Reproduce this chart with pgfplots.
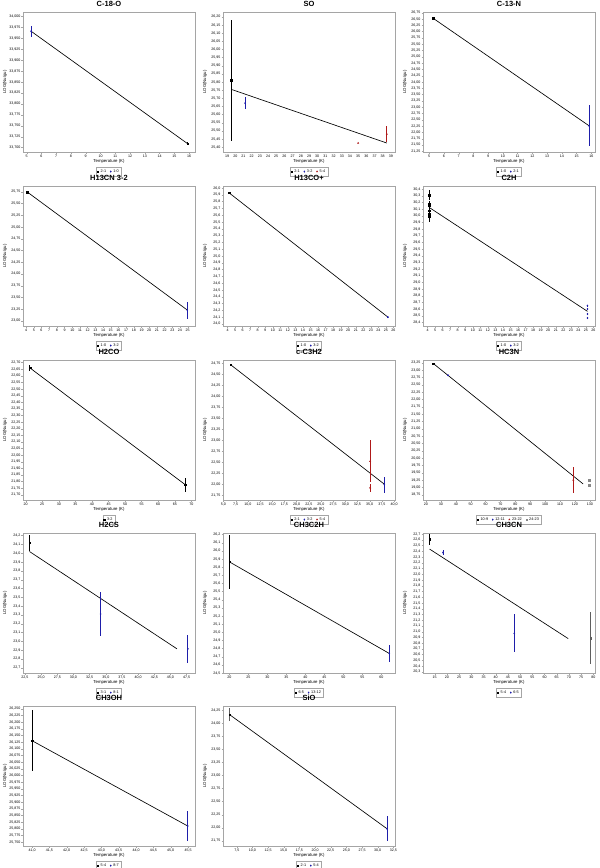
\documentclass[border=0pt]{standalone}
\usepackage{fontspec}
\setmainfont{Liberation Sans}
\usepackage{pgfplots}
\pgfplotsset{compat=1.18}

\definecolor{s1}{RGB}{0,0,0}
\definecolor{s2}{RGB}{30,30,170}
\definecolor{s3}{RGB}{175,25,25}
\definecolor{s4}{RGB}{135,135,135}
\definecolor{frame}{RGB}{165,165,165}

\pgfplotsset{
  panel/.style={
    scale only axis, width=172pt, height=140pt, anchor=north west,
    axis line style={frame, line width=0.5pt},
    tick style={frame, line width=0.3pt}, tick align=outside, major tick length=1.5pt,
    xtick pos=bottom, ytick pos=left,
    scaled ticks=false,
    tick label style={font=\fontsize{3.6}{4}\selectfont, inner sep=1pt},
    title style={font=\bfseries\fontsize{7.5}{8}\selectfont, inner sep=1pt, yshift=-2.2pt},
    xlabel={Temperature (K)}, ylabel={LOG(Nu/gu)},
    label style={font=\fontsize{4.3}{5}\selectfont},
    xlabel style={at={(axis description cs:0.5,-0.068)}, anchor=center},
    ylabel style={at={(axis description cs:-0.105,0.5)}, anchor=center},
    legend style={at={(0.5,-0.105)}, anchor=north, legend columns=-1,
      font=\fontsize{3.8}{4}\selectfont, draw=frame, line width=0.4pt, inner sep=0.6pt,
      /tikz/every even column/.append style={column sep=2pt}},
    /pgf/number format/use comma,
    /pgf/number format/assume math mode=true,
    yticklabel style={/pgf/number format/fixed, /pgf/number format/fixed zerofill},
  },
  xdec/.style={xticklabel style={/pgf/number format/fixed, /pgf/number format/fixed zerofill, /pgf/number format/precision=1}},
  yprec/.style={yticklabel style={/pgf/number format/precision=#1}},
  regline/.style={black, line width=0.65pt, no marks, forget plot},
  ser/.style 2 args={only marks, mark=#2, mark size=0.75pt, color=#1,
    /pgfplots/error bars/y dir=both, /pgfplots/error bars/y explicit,
    /pgfplots/error bars/error mark=none,
    /pgfplots/error bars/error bar style={line width=1pt, color=#1}},
  fat/.style={/pgfplots/error bars/error bar style={line width=1.6pt, color=#1}},
}

\begin{document}
\begin{tikzpicture}
\path[use as bounding box] (0,0) rectangle (600pt,-868pt);

% ---------- row 1 ----------
\begin{axis}[panel, at={(23pt,-12pt)}, title={C-18-O},
  xmin=4.75, xmax=16.4, xtick distance=1,
  ymin=33.69, ymax=34.01, ytick distance=0.025, yprec=3]
\addplot[regline] coordinates {(5.3,33.966) (15.9,33.709)};
\addplot[ser={s1}{square*}] coordinates {(15.9,33.709) +- (0,0.004)};
\addplot[ser={s2}{diamond*}] coordinates {(5.3,33.966) +- (0,0.013)};
\legend{2-1,1-0}
\end{axis}

\begin{axis}[panel, at={(223pt,-12pt)}, title={SO},
  xmin=18.5, xmax=39.5, xtick distance=1,
  ymin=25.37, ymax=26.23, ytick distance=0.05, yprec=2]
\addplot[regline] coordinates {(19.5,25.755) (38.5,25.425)};
\addplot[ser={s1}{square*}] coordinates {(19.5,25.81) +- (0,0.37)};
\addplot[ser={s2}{diamond*}] coordinates {(21.2,25.67) +- (0,0.035)};
\addplot[ser={s3}{triangle*}] coordinates {(35.0,25.425) +- (0,0.0) (38.5,25.48) +- (0,0.05)};
\legend{2-1,3-2,5-4}
\end{axis}

\begin{axis}[panel, at={(423pt,-12pt)}, title={C-13-N},
  xmin=4.58, xmax=16.25, xtick distance=1,
  ymin=21.22, ymax=26.78, ytick distance=0.25, yprec=2]
\addplot[regline] coordinates {(5.27,26.53) (15.85,22.26)};
\addplot[ser={s1}{square*}] coordinates {(5.27,26.53) +- (0,0.01)};
\addplot[ser={s2}{diamond*}] coordinates {(15.85,22.26) +- (0,0.82)};
\legend{1-0,2-1}
\end{axis}

% ---------- row 2 ----------
\begin{axis}[panel, at={(23pt,-186pt)}, title={H13CN 3-2},
  xmin=3.6, xmax=25.95, xtick distance=1,
  ymin=22.89, ymax=25.875, ytick distance=0.25, yprec=2]
\addplot[regline] coordinates {(4.17,25.745) (24.95,23.23)};
\addplot[ser={s1}{square*}] coordinates {(4.17,25.745) +- (0,0.005)};
\addplot[ser={s2}{diamond*}] coordinates {(24.95,23.23) +- (0,0.18)};
\legend{1-0,3-2}
\end{axis}

\begin{axis}[panel, at={(223pt,-186pt)}, title={H13CO+},
  xmin=3.4, xmax=26.2, xtick distance=1,
  ymin=23.97, ymax=26.03, ytick distance=0.1, yprec=1]
\addplot[regline] coordinates {(4.2,25.93) (25.27,24.10)};
\addplot[ser={s1}{square*}] coordinates {(4.2,25.93) +- (0,0.01)};
\addplot[ser={s2}{diamond*}] coordinates {(25.27,24.10) +- (0,0.012)};
\legend{1-0,3-2}
\end{axis}

\begin{axis}[panel, at={(423pt,-186pt)}, title={C2H},
  xmin=3.4, xmax=26.2, xtick distance=1,
  ymin=28.345, ymax=30.445, ytick distance=0.1, yprec=1]
\addplot[regline] coordinates {(4.2,30.125) (25.2,28.565)};
\addplot[ser={s1}{square*}] coordinates {
  (4.2,30.31) +- (0,0.075) (4.2,30.175) +- (0,0.04) (4.2,30.15) +- (0,0.04)
  (4.2,30.075) +- (0,0.04) (4.2,30.025) +- (0,0.04) (4.2,29.985) +- (0,0.085)};
\addplot[ser={s2}{diamond*}] coordinates {
  (25.2,28.65) +- (0,0.015) (25.2,28.60) +- (0,0.015)
  (25.2,28.525) +- (0,0.015) (25.2,28.465) +- (0,0.015)};
\legend{1-0,3-2}
\end{axis}

% ---------- row 3 ----------
\begin{axis}[panel, at={(23pt,-360pt)}, title={H2CO},
  xmin=19.2, xmax=71.1, xtick distance=5,
  ymin=21.66, ymax=22.72, ytick distance=0.05, yprec=2]
\addplot[regline] coordinates {(21.3,22.66) (68.2,21.775)};
\addplot[ser={s1}{square*}] coordinates {(21.3,22.66) +- (0,0.02) (68.2,21.775) +- (0,0.055)};
\legend{3-2}
\end{axis}

\begin{axis}[panel, at={(223pt,-360pt)}, title={c-C3H2}, xdec,
  xmin=4.9, xmax=40.2, xtick distance=2.5,
  ymin=21.64, ymax=24.82, ytick distance=0.25, yprec=2]
\addplot[regline] coordinates {(6.5,24.71) (38.0,22.0)};
\addplot[ser={s1}{square*}] coordinates {(6.5,24.71) +- (0,0.03)};
\addplot[ser={s2}{diamond*}] coordinates {(38.0,21.99) +- (0,0.18)};
\addplot[ser={s3}{triangle*}] coordinates {(35.1,22.52) +- (0,0.48) (35.1,21.92) +- (0,0.09)};
\legend{2-1,3-2,5-4}
\end{axis}

\begin{axis}[panel, at={(423pt,-360pt)}, title={HC3N},
  xmin=18, xmax=133.5, xtick distance=10,
  ymin=18.57, ymax=23.35, ytick distance=0.25, yprec=2]
\addplot[regline] coordinates {(24.9,23.23) (125.5,19.12)};
\addplot[ser={s1}{square*}] coordinates {(24.9,23.23) +- (0,0.02)};
\addplot[ser={s2}{diamond*}] coordinates {(34.8,22.83) +- (0,0.02)};
\addplot[ser={s3}{triangle*}] coordinates {(118.9,19.25) +- (0,0.43)};
\addplot[ser={s4}{square*}] coordinates {(129.5,19.25) +- (0,0.05) (129.5,19.07) +- (0,0.04)};
\legend{10-9,12-11,23-22,24-23}
\end{axis}

% ---------- row 4 ----------
\begin{axis}[panel, at={(23pt,-533pt)}, title={H2CS}, xdec,
  xmin=22.2, xmax=48.8, xtick distance=2.5,
  ymin=22.64, ymax=24.23, ytick distance=0.1, yprec=1]
\addplot[regline] coordinates {(23.2,24.02) (46.0,22.915)};
\addplot[ser={s1}{square*}] coordinates {(23.2,24.12) +- (0,0.09)};
\addplot[ser={s2}{diamond*}] coordinates {(34.2,23.31) +- (0,0.245) (47.7,22.915) +- (0,0.16)};
\legend{3-1,8-1}
\end{axis}

\begin{axis}[panel, at={(223pt,-533pt)}, title={CH3C2H},
  xmin=18.3, xmax=63.6, xtick distance=5,
  ymin=24.5, ymax=26.22, ytick distance=0.1, yprec=1]
\addplot[regline] coordinates {(20.0,25.865) (62.1,24.74)};
\addplot[ser={s1}{square*}] coordinates {(20.0,25.865) +- (0,0.33)};
\addplot[ser={s2}{diamond*}] coordinates {(62.1,24.74) +- (0,0.105)};
\legend{6-5,13-12}
\end{axis}

\begin{axis}[panel, at={(423pt,-533pt)}, title={CH3CN},
  xmin=10.2, xmax=80.7, xtick distance=5,
  ymin=20.28, ymax=22.72, ytick distance=0.1, yprec=1]
\addplot[regline] coordinates {(12.9,22.44) (69.7,20.88)};
\addplot[ser={s1}{square*}] coordinates {(12.9,22.61) +- (0,0.1)};
\addplot[ser={s2}{diamond*}] coordinates {(18.4,22.38) +- (0,0.04) (47.6,20.97) +- (0,0.33)};
\addplot[forget plot, ser={s4!70!black}{square*}, fat=s4!70!black] coordinates {(78.9,20.89) +- (0,0.445)};
\legend{5-4,6-5}
\end{axis}

% ---------- row 5 ----------
\begin{axis}[panel, at={(23pt,-706pt)}, title={CH3OH}, xdec,
  xmin=40.74, xmax=45.7, xtick distance=0.5,
  ymin=25.735, ymax=26.26, ytick distance=0.025, yprec=3]
\addplot[regline] coordinates {(41.0,26.13) (45.49,25.81)};
\addplot[ser={s1}{square*}] coordinates {(41.0,26.13) +- (0,0.115)};
\addplot[ser={s2}{diamond*}] coordinates {(45.49,25.81) +- (0,0.056)};
\legend{5-4,8-7}
\end{axis}

\begin{axis}[panel, at={(223pt,-706pt)}, title={SiO}, xdec,
  xmin=5.3, xmax=32.77, xtick distance=2.5,
  ymin=21.65, ymax=24.33, ytick distance=0.25, yprec=2]
\addplot[regline] coordinates {(6.35,24.165) (31.5,21.98)};
\addplot[ser={s1}{square*}, fat=s4!70!black] coordinates {(6.35,24.165) +- (0,0.12)};
\addplot[ser={s2}{diamond*}] coordinates {(31.5,21.98) +- (0,0.24)};
\legend{2-1,5-4}
\end{axis}
\end{tikzpicture}
\end{document}
